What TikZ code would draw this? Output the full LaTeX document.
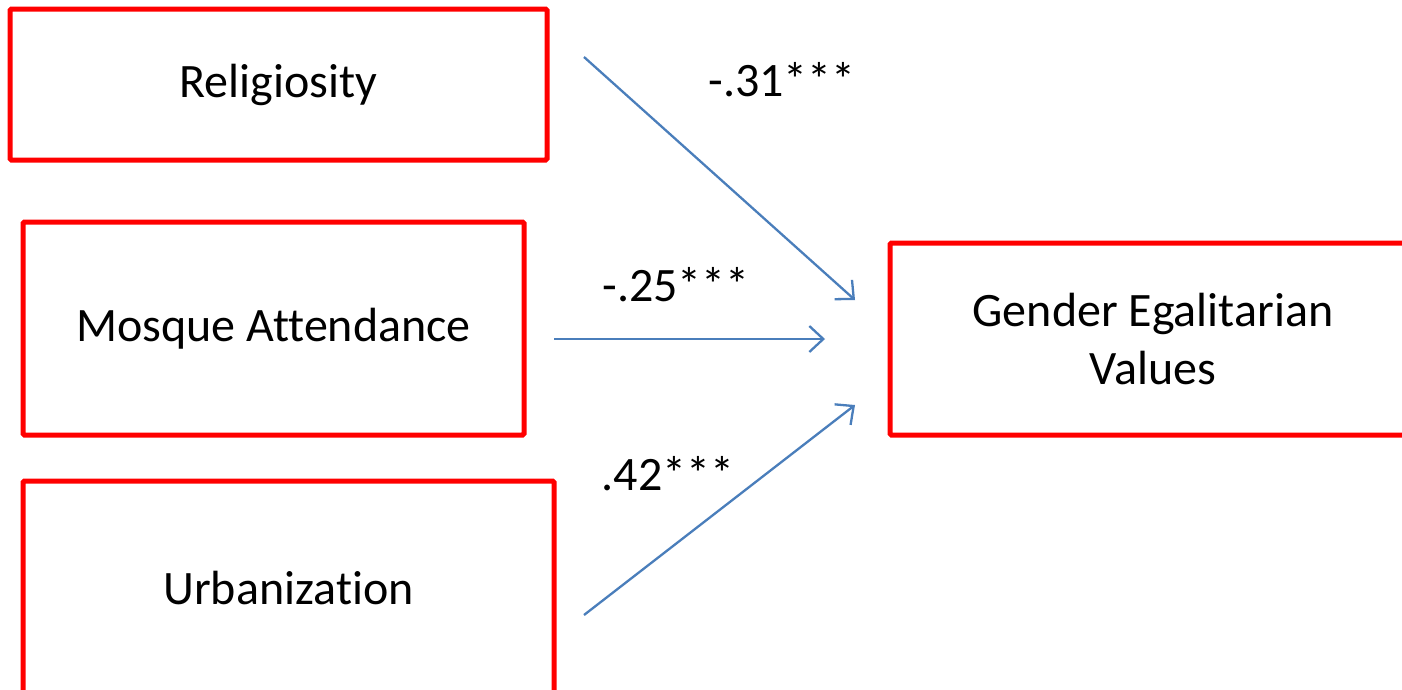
\documentclass[tikz,border=0pt]{standalone}
\usepackage{fontspec}
\setmainfont[Ligatures={NoCommon}]{Carlito}
\usetikzlibrary{arrows.meta}
\definecolor{boxred}{RGB}{255,0,0}
\definecolor{arrowblue}{RGB}{74,126,187}
\tikzset{
  varbox/.style={draw=boxred, line width=5pt, rounded corners=1.5pt, inner sep=0pt,
    font=\fontsize{48}{58}\selectfont, align=center},
  path/.style={draw=arrowblue, line width=2.3pt,
    -{Straight Barb[length=14pt, width=26pt, line width=2.3pt]}},
  coef/.style={font=\fontsize{48}{52}\selectfont, inner sep=0pt}
}
\begin{document}
\begin{tikzpicture}[x=1pt, y=-1pt]
  \useasboundingbox (0,0) rectangle (1402,689);
  \clip (0,0) rectangle (1402,689);
  \fill[white] (0,0) rectangle (1402,689);

  % predictor and outcome boxes
  \node[varbox, minimum width=537pt, minimum height=151pt] (rel) at (278.5,84.5) {Religiosity};
  \node[varbox, minimum width=501pt, minimum height=213pt] (mosque) at (273.5,328.5) {Mosque Attendance};
  \node[varbox, minimum width=531pt, minimum height=214pt] (urb) at (288.5,588) {Urbanization};
  \node[varbox, minimum width=526pt, minimum height=192pt] (gev) at (1153,339) {Gender Egalitarian\\Values};

  % path end points
  \coordinate (r0) at (584,57);
  \coordinate (r1) at (855,300);
  \coordinate (m0) at (554,339);
  \coordinate (m1) at (825,339);
  \coordinate (u0) at (584,615);
  \coordinate (u1) at (855,405);

  \draw[path] (r0) -- (r1);
  \draw[path] (m0) -- (m1);
  \draw[path] (u0) -- (u1);

  % path coefficients
  \node[coef] (c1) at (782,80) {-.31***};
  \node[coef] (c2) at (676,285) {-.25***};
  \node[coef] (c3) at (668,474) {.42***};
\end{tikzpicture}
\end{document}
